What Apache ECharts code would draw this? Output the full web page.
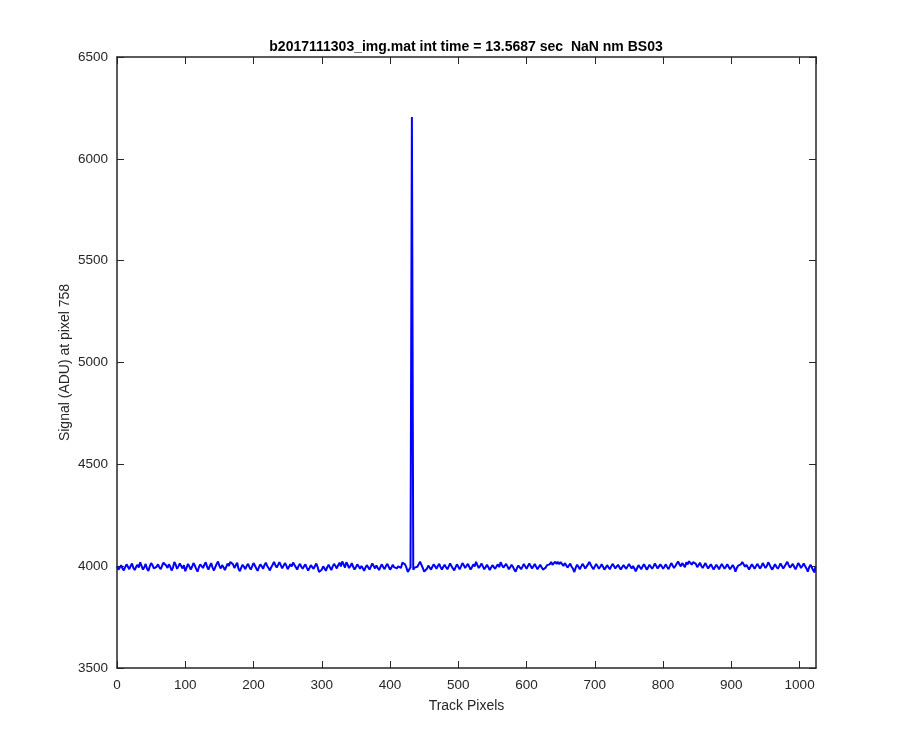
<!DOCTYPE html>
<html>
<head>
<meta charset="utf-8">
<script src="https://cdn.jsdelivr.net/npm/echarts@6/dist/echarts.min.js"></script>
<style>html,body{margin:0;padding:0;background:#fff}#c{width:900px;height:750px}</style>
</head>
<body>
<div id="c"></div>
<script>
const titleText = 'b2017111303_img.mat int time = 13.5687 sec  NaN nm BS03';
const xName = 'Track Pixels';
const yName = 'Signal (ADU) at pixel 758';
const xTicks = [0, 100, 200, 300, 400, 500, 600, 700, 800, 900, 1000];
const yTicks = [3500, 4000, 4500, 5000, 5500, 6000, 6500];
const pixelStart = 0;
const pixelStep = 2;
const lastPixel = 1023;
const lastSignal = 3996;
const signal = [
3999,3983,3993,4005,3989,3979,3995,4009,3997,3985,4001,4013,3991,3981,3997,4007,
3993,4019,4001,3983,3995,4011,3987,3977,3999,4015,4005,3989,3981,3997,4009,3995,
3985,4001,4017,4020,4003,3991,4009,3997,3979,3993,4021,4007,3987,3999,4013,4001,
3989,4005,3975,3993,4011,3999,3983,3997,4015,4003,3987,3973,3995,4009,4001,3991,
4007,4019,3997,3983,4001,4015,3993,3979,3995,4011,4023,4001,3989,4005,3995,3981,
3997,4013,4001,4021,4024,4009,3991,3999,4017,3987,3975,3993,4007,3997,3985,4001,
4011,3995,3983,3999,4015,4003,3989,3977,3995,4009,3999,3987,4005,4017,4001,3991,
3979,3995,4007,4021,4005,3993,4001,4020,4011,3989,3997,4015,4003,3985,3993,4009,
3999,4018,4013,3995,3983,4001,4011,3997,3987,3999,4009,3993,3979,3991,4005,3997,
3987,4001,4013,3995,3971,3966,3983,3999,3989,3977,3995,4007,3993,3981,3999,4011,
4001,3989,4005,4017,3999,4023,4009,3993,4019,4007,3991,4001,4015,3997,3983,3995,
4009,3999,3987,4001,3991,3977,3993,4005,3995,3983,3999,4013,4001,3989,4003,3991,
3981,3997,4009,3995,3985,4001,4011,3997,3983,3993,4007,3995,4003,3989,3999,4005,
3991,4017,4022,4009,3993,3971,3965,3995,6205,3983,3993,3989,3997,4005,4022,4015,
3991,3973,3965,3987,4003,3995,3983,3997,4009,3999,3987,4001,4011,3995,3983,3997,
4007,3995,3985,3999,4013,4001,3989,3979,3995,4009,3997,3985,3999,4015,4005,3991,
4001,4011,3997,3983,3995,4009,3999,4021,4005,3991,4001,4013,3999,3985,3995,4007,
3995,3981,3993,4005,3997,3987,3999,4009,3995,4019,4005,3993,3999,4011,3999,3985,
3995,4007,3997,3983,3973,3991,4003,3995,3985,3997,4011,3999,3987,4001,4013,4001,
3989,3999,4011,3997,3985,3993,4007,3995,3983,3975,3993,4005,3997,4009,4021,4007,
4015,4022,4011,4021,4009,4020,4013,4001,4015,4005,3993,4001,4013,3997,3987,3971,
3993,4007,3997,3985,3999,4011,4001,3989,3997,4009,4021,4007,3995,3985,3999,4011,
3999,3987,3997,4009,3997,3983,3993,4005,3995,3985,3999,4011,4001,3989,3997,4007,
3995,3983,3995,4005,3997,3987,3999,4011,3999,3989,4001,3993,3975,3991,4005,3995,
3985,3999,4009,3997,3983,3993,4007,3997,3987,3999,4013,4001,3989,3997,4009,3999,
3987,3997,4009,3995,3985,4001,4015,4003,3991,4001,4013,4023,4009,3999,4015,4005,
3995,4019,4009,4024,4032,4007,4020,4022,4011,3995,4005,4017,4001,3991,4003,4015,
4001,3989,3999,4009,3997,3983,3995,4007,3997,3985,3999,4011,3999,3987,3997,4009,
3997,3985,3995,4005,3995,3973,3991,4003,3995,4009,4020,4011,3997,4007,3995,3983,
3997,4009,3999,3987,3999,4011,4001,3989,3999,4015,4003,3991,4001,4019,4007,3993,
3983,3997,4009,3997,3987,3999,4013,4001,3989,3999,4011,4021,4005,3993,4001,4011,
3997,3985,3999,4015,4005,3991,4001,4013,4001,3989,3973,3995,4007,3999,3979,3969
];

const seriesData = signal.map((v, i) => [pixelStart + i * pixelStep, v]);
seriesData.push([lastPixel, lastSignal]);

const axisColor = '#262626';
const fontFam = 'Liberation Sans, Arial, sans-serif';
const labelFont = { color: '#262626', fontSize: 13.5, fontFamily: fontFam };
const nameFont = { color: '#262626', fontSize: 14, fontFamily: fontFam };
const xMin = xTicks[0], xMax = 1024, xInt = xTicks[1] - xTicks[0];
const yMin = yTicks[0], yMax = yTicks[yTicks.length - 1], yInt = yTicks[1] - yTicks[0];

function xAxisCfg(pos, show) {
  return {
    type: 'value', position: pos, min: xMin, max: xMax, interval: xInt,
    name: show ? xName : '', nameLocation: 'middle', nameGap: 31, nameMoveOverlap: false,
    nameTextStyle: nameFont,
    axisLine: { show: true, onZero: false, lineStyle: { color: axisColor, width: 1.5 } },
    axisTick: { show: true, inside: true, length: 7, lineStyle: { color: axisColor, width: 1 } },
    axisLabel: Object.assign({ show: show, margin: 10, showMaxLabel: false, formatter: v => String(v) }, labelFont),
    splitLine: { show: false }
  };
}
function yAxisCfg(pos, show) {
  return {
    type: 'value', position: pos, min: yMin, max: yMax, interval: yInt,
    name: show ? yName : '', nameLocation: 'middle', nameGap: 45, nameMoveOverlap: false,
    nameTextStyle: nameFont,
    axisLine: { show: true, onZero: false, lineStyle: { color: axisColor, width: 1.5 } },
    axisTick: { show: true, inside: true, length: 7, lineStyle: { color: axisColor, width: 1 } },
    axisLabel: Object.assign({ show: show, margin: 9, formatter: v => String(v) }, labelFont),
    splitLine: { show: false }
  };
}

const chart = echarts.init(document.getElementById('c'), null, { renderer: 'canvas' });
chart.setOption({
  animation: false,
  backgroundColor: '#ffffff',
  title: {
    text: titleText, left: 461, top: 35, textAlign: 'center',
    textStyle: { color: '#000', fontSize: 14, fontWeight: 'bold', fontFamily: fontFam }
  },
  grid: { left: 117, top: 57, right: 84, bottom: 82, containLabel: false },
  xAxis: [xAxisCfg('bottom', true), xAxisCfg('top', false)],
  yAxis: [yAxisCfg('left', true), yAxisCfg('right', false)],
  series: [{
    type: 'line', xAxisIndex: 0, yAxisIndex: 0, data: seriesData,
    showSymbol: false, symbol: 'none',
    lineStyle: { color: '#0000ff', width: 2 }
  }]
});
</script>
</body>
</html>
